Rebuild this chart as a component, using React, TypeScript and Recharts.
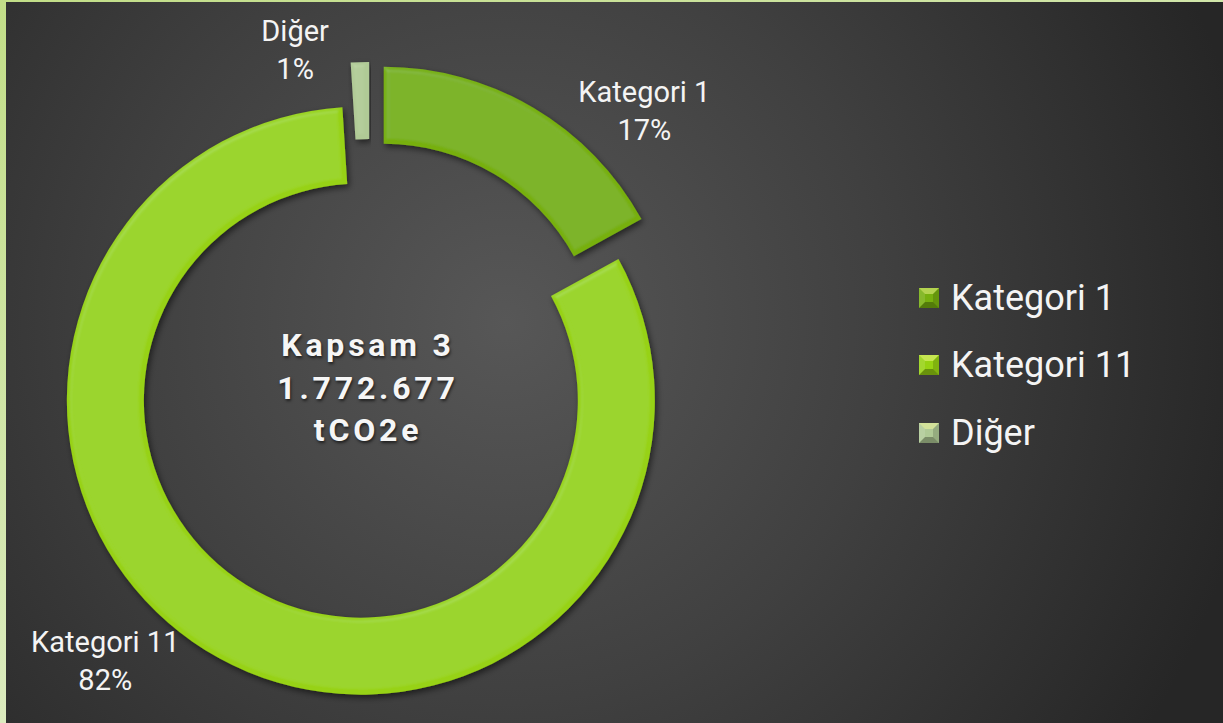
import { PieChart, Pie, Cell, Legend } from 'recharts';

// Kapsam 3 breakdown
const categories = ['Kategori 1', 'Kategori 11', 'Diğer'];
const shares = [17, 82, 1];
const percentLabels = ['17%', '82%', '1%'];
const centerLines = ['Kapsam 3', '1.772.677', 'tCO2e'];

const colors = ['#77b00f', '#97d212', '#b0ca96'];
// how far each slice is pulled out of the ring (px), same order as categories
const explode = [27, 19, 28];
// label placement (same order as categories): angle nudge from the slice middle
// and distance from the ring centre
const labelPlace = [
  { da: -15, r: 384 },
  { da: -14.5, r: 386 },
  { da: 11, r: 338 },
];

const W = 1217;
const H = 721;
const CX = 359;
const CY = 377;
const OUTER = 294;
const INNER = 217;

const data = categories.map((name, i) => ({ name, value: shares[i] }));
const total = shares.reduce((a, b) => a + b, 0);

const midAngles = shares.map((v, i) => {
  const before = shares.slice(0, i).reduce((a, b) => a + b, 0);
  return 90 - (360 * (before + v / 2)) / total;
});

const rad = (deg: number) => (deg * Math.PI) / 180;

const renderLabel = (target: number) => (props: any) => {
  if (props.index !== target) return null;
  const p = labelPlace[target];
  // back out the explode offset so labels sit relative to the ring centre
  const m = rad(props.midAngle);
  const baseX = props.cx - explode[target] * Math.cos(m);
  const baseY = props.cy + explode[target] * Math.sin(m);
  const a = rad(props.midAngle + p.da);
  const x = baseX + p.r * Math.cos(a);
  const y = baseY - p.r * Math.sin(a);
  return (
    <text key={`lbl-${target}`} textAnchor="middle" fill="#f4f4f4" fontSize={29} fontFamily="Roboto">
      <tspan x={x} y={y - 13}>{categories[target]}</tspan>
      <tspan x={x} y={y + 25}>{percentLabels[target]}</tspan>
    </text>
  );
};

const Marker = ({ color }: { color: string }) => (
  <svg width={20} height={20} style={{ display: 'block' }}>
    <rect width={20} height={20} fill={color} />
    <polygon points="0,0 20,0 14,6 6,6" fill="rgba(255,255,160,0.45)" />
    <polygon points="0,20 20,20 14,14 6,14" fill="rgba(0,0,0,0.3)" />
    <polygon points="0,0 6,6 6,14 0,20" fill="rgba(255,255,255,0.12)" />
    <polygon points="20,0 14,6 14,14 20,20" fill="rgba(0,0,0,0.15)" />
  </svg>
);

const renderLegend = () => (
  <div>
    {categories.map((c, i) => (
      <div key={c} style={{ display: 'flex', alignItems: 'center', height: 67.5 }}>
        <Marker color={colors[i]} />
        <span
          style={{
            marginLeft: 12,
            fontFamily: 'Roboto',
            fontSize: 36,
            color: '#f4f4f4',
          }}
        >
          {c}
        </span>
      </div>
    ))}
  </div>
);

export default function App() {
  return (
    <div
      style={{
        position: 'absolute',
        left: 0,
        top: 0,
        width: 1223,
        height: 723,
        background: 'linear-gradient(160deg, #c2de88 0%, #d6e8b4 50%, #ecf4de 100%)',
      }}
    >
      <div
        style={{
          position: 'absolute',
          left: 6,
          top: 2,
          width: W,
          height: H,
          background: 'radial-gradient(circle at 500px 320px, #575757 0%, #404040 380px, #262626 760px)',
        }}
      >
        <PieChart width={W} height={H}>
          <defs>
            <filter id="ringFx" x="-10%" y="-10%" width="120%" height="120%">
              <feGaussianBlur in="SourceAlpha" stdDeviation="2.5" result="blur" />
              <feSpecularLighting
                in="blur"
                surfaceScale="3"
                specularConstant="0.5"
                specularExponent="18"
                lightingColor="#ffffff"
                result="spec"
              >
                <feDistantLight azimuth="235" elevation="50" />
              </feSpecularLighting>
              <feComposite in="spec" in2="SourceAlpha" operator="in" result="specIn" />
              <feComposite in="SourceGraphic" in2="specIn" operator="arithmetic" k1="0" k2="1" k3="0.12" k4="0" result="lit" />
              <feDropShadow in="lit" dx="2" dy="3" stdDeviation="3" floodColor="#000" floodOpacity="0.55" />
            </filter>
          </defs>
          {categories.map((_, target) => {
            const a = rad(midAngles[target]);
            return (
              <Pie
                key={target}
                data={data}
                dataKey="value"
                nameKey="name"
                cx={CX + explode[target] * Math.cos(a)}
                cy={CY - explode[target] * Math.sin(a)}
                innerRadius={INNER}
                outerRadius={OUTER}
                startAngle={90}
                endAngle={-270}
                stroke="none"
                label={renderLabel(target)}
                labelLine={false}
                isAnimationActive={false}
                legendType="none"
              >
                {data.map((d, i) => (
                  <Cell
                    key={d.name}
                    fill={i === target ? colors[i] : 'none'}
                    stroke="none"
                    filter={i === target ? 'url(#ringFx)' : undefined}
                  />
                ))}
              </Pie>
            );
          })}
          <Legend
            content={renderLegend}
            layout="vertical"
            verticalAlign="top"
            align="right"
            wrapperStyle={{ left: 913, top: 262, width: 300 }}
          />
        </PieChart>
        <div
          style={{
            position: 'absolute',
            left: CX - 150 + 3,
            top: 390 - 68,
            width: 300,
            textAlign: 'center',
            fontFamily: 'Roboto',
            fontWeight: 700,
            fontSize: 32,
            lineHeight: '42.5px',
            letterSpacing: 3.8,
            color: '#f6f6f6',
            textShadow: '1px 2px 3px rgba(0,0,0,0.6)',
            pointerEvents: 'none',
          }}
        >
          {centerLines.map((l) => (
            <div key={l}>{l}</div>
          ))}
        </div>
      </div>
    </div>
  );
}
